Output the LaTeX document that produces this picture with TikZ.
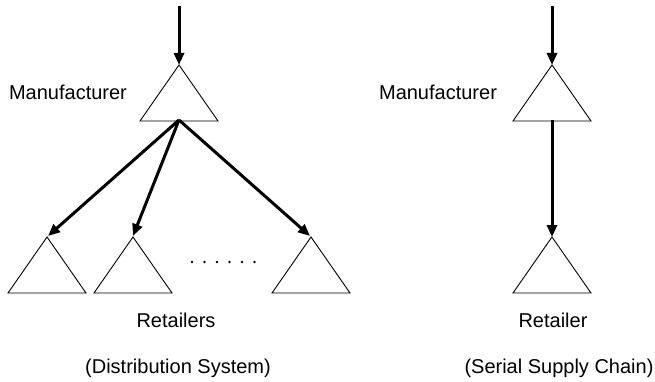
\documentclass[tikz,border=0pt]{standalone}
\usepackage{fontspec}
\setmainfont{Liberation Sans}
\usetikzlibrary{arrows.meta}
\begin{document}
\begin{tikzpicture}[x=1pt,y=-1pt,
  tri/.style={draw=black,line width=0.9pt,line join=miter},
  flow/.style={draw=black,line width=3pt,-{Triangle[length=12pt,width=10pt]}},
  lbl/.style={inner sep=0pt,font=\fontsize{20}{24}\selectfont}]
\useasboundingbox (0,0) rectangle (655,382);
% left manufacturer
\coordinate (mtopL) at (179,6);
\coordinate (mL) at (179,65);
\coordinate (mLb) at (179,120);
\draw[tri] (mL) -- (140,121) -- (218,121) -- cycle;
% retailers
\coordinate (r1) at (48,236);
\coordinate (r2) at (133,236);
\coordinate (r3) at (310,236);
\draw[tri] (47,237) -- (8,293) -- (86,293) -- cycle;
\draw[tri] (133,237) -- (94,293) -- (172,293) -- cycle;
\draw[tri] (311,237) -- (272,293) -- (350,293) -- cycle;
\foreach \i in {0,...,5} \fill (192+12.5*\i,262) circle (1.3pt);
\draw[flow] (mtopL) -- (mL);
\draw[flow] (mLb) -- (r1);
\draw[flow] (mLb) -- (r2);
\draw[flow] (mLb) -- (r3);
% right
\coordinate (mtopR) at (552,6);
\coordinate (mR) at (552,65);
\coordinate (mRb) at (552,120);
\coordinate (rR) at (552,237);
\draw[tri] (mR) -- (513,121) -- (591,121) -- cycle;
\draw[tri] (rR) -- (513,293) -- (591,293) -- cycle;
\draw[flow] (mtopR) -- (mR);
\draw[flow] (mRb) -- (rR);
% labels
\node[lbl] (tManL) at (68,92) {Manufacturer};
\node[lbl] (tManR) at (438,92) {Manufacturer};
\node[lbl] (tRets) at (176,320) {Retailers};
\node[lbl] (tRet) at (553,320) {Retailer};
\node[lbl] (tDist) at (178,368) {(Distribution System)};
\node[lbl] (tSer) at (559,368) {(Serial Supply Chain)};
\end{tikzpicture}
\end{document}
